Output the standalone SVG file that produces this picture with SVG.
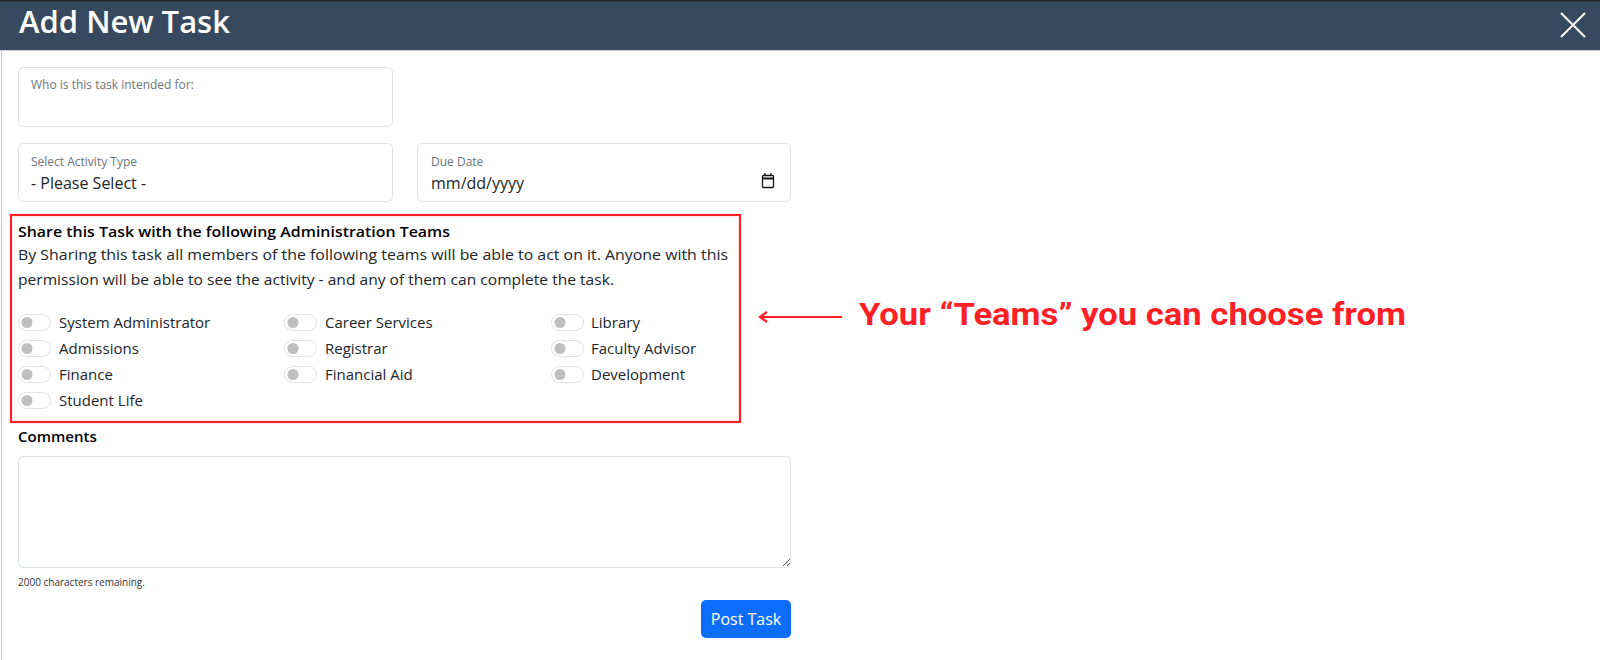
<svg xmlns="http://www.w3.org/2000/svg" width="1600" height="660" viewBox="0 0 1600 660">
<style>
.ui{font-family:"Open Sans","Noto Sans","Liberation Sans",sans-serif}
.field{fill:#fff;stroke:#dee2e6;stroke-width:1}
.lbl{font-size:12px;fill:#6c757d}
.val{font-size:16px;fill:#212529}
.body{font-size:15px;fill:#212529}
.bold{font-size:15px;font-weight:600;fill:#000}
.tg{fill:#fff;stroke:#dee2e6;stroke-width:1}
.kn{fill:#bfbfbf}
.red{fill:#ff1f26;font-family:Roboto,"Liberation Sans",sans-serif;font-weight:700;font-size:32px}
</style>
<defs>
<marker id="ah" viewBox="0 0 12 12" refX="10" refY="6" markerWidth="12" markerHeight="12" markerUnits="userSpaceOnUse" orient="auto">
<path d="M3,1 L10,6 L3,11" fill="none" stroke="#ff1f26" stroke-width="2.2"/>
</marker>
</defs>
<rect width="1600" height="660" fill="#fff"/>
<g id="header">
<rect x="0" y="0" width="1600" height="50" fill="#37495f"/>
<line x1="0" y1="0.75" x2="1600" y2="0.75" stroke="#222" stroke-width="1.5"/>
<line x1="0" y1="50.5" x2="1600" y2="50.5" stroke="#c9ced6" stroke-width="1"/>
<text class="ui" x="19" y="33" font-size="31" font-weight="600" fill="#fff">Add New Task</text>
<path d="M1561,13 L1585,37 M1585,13 L1561,37" stroke="#fff" stroke-width="2"/>
</g>
<line x1="1.5" y1="51" x2="1.5" y2="660" stroke="#c8c8c8" stroke-width="1"/>
<g id="who" class="ui">
<rect class="field" x="18.5" y="67.5" width="374" height="59" rx="5"/>
<text class="lbl" x="31" y="89">Who is this task intended for:</text>
</g>
<g id="activity" class="ui">
<rect class="field" x="18.5" y="143.5" width="374" height="58" rx="5"/>
<text class="lbl" x="31" y="166">Select Activity Type</text>
<text class="val" x="31" y="189">- Please Select -</text>
</g>
<g id="duedate" class="ui">
<rect class="field" x="417.5" y="143.5" width="373" height="58" rx="5"/>
<text class="lbl" x="431" y="166">Due Date</text>
<text class="val" x="431" y="189">mm/dd/yyyy</text>
<rect x="762.5" y="175.5" width="11" height="12" rx="1" fill="none" stroke="#111" stroke-width="1.3"/>
<line x1="762.5" y1="178.5" x2="773.5" y2="178.5" stroke="#111" stroke-width="2"/>
<line x1="765" y1="173" x2="765" y2="176" stroke="#111" stroke-width="1.3"/>
<line x1="771" y1="173" x2="771" y2="176" stroke="#111" stroke-width="1.3"/>
</g>
<g id="teams" class="ui">
<rect x="11" y="215" width="729" height="207" fill="none" stroke="#ff1f26" stroke-width="2.2"/>
<text class="bold" x="18" y="237" textLength="432" lengthAdjust="spacingAndGlyphs">Share this Task with the following Administration Teams</text>
<text class="body" x="18" y="260" textLength="710" lengthAdjust="spacingAndGlyphs">By Sharing this task all members of the following teams will be able to act on it. Anyone with this</text>
<text class="body" x="18" y="285" textLength="596" lengthAdjust="spacingAndGlyphs">permission will be able to see the activity - and any of them can complete the task.</text>
</g>
<g id="toggle-sysadmin" class="ui"><rect class="tg" x="18.5" y="314.5" width="32" height="16" rx="8"/><circle class="kn" cx="27" cy="322.5" r="5.5"/><text class="body" x="59" y="328">System Administrator</text></g>
<g id="toggle-admissions" class="ui"><rect class="tg" x="18.5" y="340.5" width="32" height="16" rx="8"/><circle class="kn" cx="27" cy="348.5" r="5.5"/><text class="body" x="59" y="354">Admissions</text></g>
<g id="toggle-finance" class="ui"><rect class="tg" x="18.5" y="366.5" width="32" height="16" rx="8"/><circle class="kn" cx="27" cy="374.5" r="5.5"/><text class="body" x="59" y="380">Finance</text></g>
<g id="toggle-studentlife" class="ui"><rect class="tg" x="18.5" y="392.5" width="32" height="16" rx="8"/><circle class="kn" cx="27" cy="400.5" r="5.5"/><text class="body" x="59" y="406">Student Life</text></g>
<g id="toggle-career" class="ui"><rect class="tg" x="284.5" y="314.5" width="32" height="16" rx="8"/><circle class="kn" cx="293" cy="322.5" r="5.5"/><text class="body" x="325" y="328">Career Services</text></g>
<g id="toggle-registrar" class="ui"><rect class="tg" x="284.5" y="340.5" width="32" height="16" rx="8"/><circle class="kn" cx="293" cy="348.5" r="5.5"/><text class="body" x="325" y="354">Registrar</text></g>
<g id="toggle-finaid" class="ui"><rect class="tg" x="284.5" y="366.5" width="32" height="16" rx="8"/><circle class="kn" cx="293" cy="374.5" r="5.5"/><text class="body" x="325" y="380">Financial Aid</text></g>
<g id="toggle-library" class="ui"><rect class="tg" x="551.5" y="314.5" width="32" height="16" rx="8"/><circle class="kn" cx="560" cy="322.5" r="5.5"/><text class="body" x="591" y="328">Library</text></g>
<g id="toggle-faculty" class="ui"><rect class="tg" x="551.5" y="340.5" width="32" height="16" rx="8"/><circle class="kn" cx="560" cy="348.5" r="5.5"/><text class="body" x="591" y="354">Faculty Advisor</text></g>
<g id="toggle-development" class="ui"><rect class="tg" x="551.5" y="366.5" width="32" height="16" rx="8"/><circle class="kn" cx="560" cy="374.5" r="5.5"/><text class="body" x="591" y="380">Development</text></g>
<g id="connectors">
<line x1="842" y1="317" x2="760" y2="317" stroke="#ff1f26" stroke-width="2.2" marker-end="url(#ah)"/>
</g>
<g id="callout">
<text class="red" x="859" y="325" textLength="547" lengthAdjust="spacingAndGlyphs">Your “Teams” you can choose from</text>
</g>
<g id="comments" class="ui">
<text class="bold" x="18" y="442">Comments</text>
<rect class="field" x="18.5" y="456.5" width="772" height="111" rx="5"/>
<path d="M783,566 L790,559 M787,566 L790,563" stroke="#555" stroke-width="1"/>
<text x="18" y="586" font-size="10" fill="#333">2000 characters remaining.</text>
</g>
<g id="post" class="ui">
<rect x="701" y="600" width="90" height="38" rx="5" fill="#0d6efd"/>
<text x="746" y="625" font-size="16" fill="#fff" text-anchor="middle">Post Task</text>
</g>
</svg>
